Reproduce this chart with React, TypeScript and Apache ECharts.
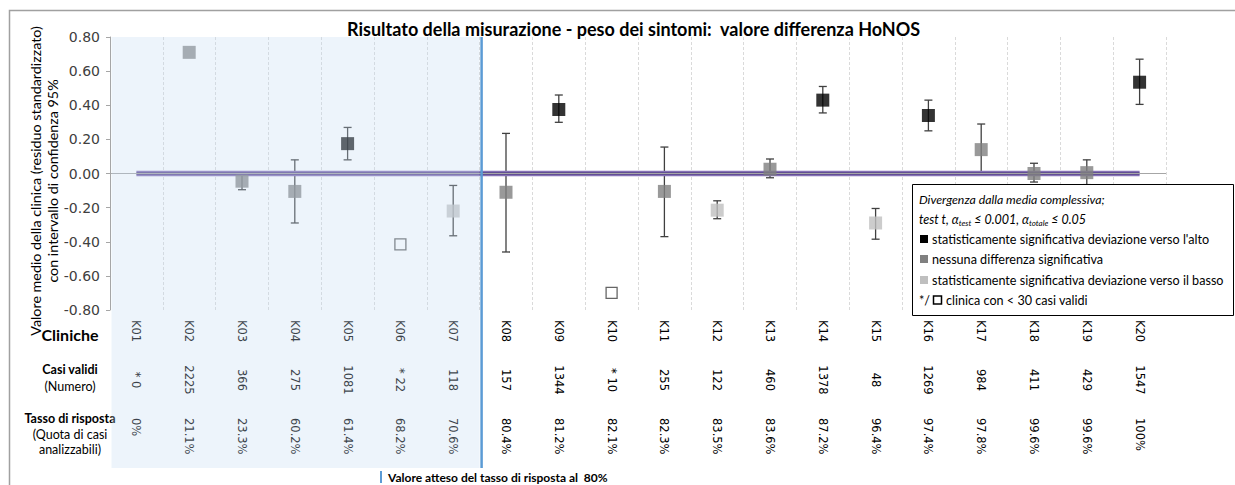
import React, { useEffect, useRef } from "react";
import * as echarts from "echarts";

const titleText = "Risultato della misurazione - peso dei sintomi:  valore differenza HoNOS";
const yAxisTitle = ["Valore medio della clinica (residuo standardizzato)", "con intervallo di confidenza 95%"];

const categories = ["K01", "K02", "K03", "K04", "K05", "K06", "K07", "K08", "K09", "K10", "K11", "K12", "K13", "K14", "K15", "K16", "K17", "K18", "K19", "K20"];
const casiValidi = ["* 0", "2225", "366", "275", "1081", "* 22", "118", "157", "1344", "* 10", "255", "122", "460", "1378", "48", "1269", "984", "411", "429", "1547"];
const tassoRisposta = ["0%", "21.1%", "23.3%", "60.2%", "61.4%", "68.2%", "70.6%", "80.4%", "81.2%", "82.1%", "82.3%", "83.5%", "83.6%", "87.2%", "96.4%", "97.4%", "97.8%", "99.6%", "99.6%", "100%"];
// up = significantly above, ns = no significant difference, down = significantly below, small = < 30 valid cases
const groups = ["small", "ns", "ns", "ns", "up", "small", "down", "ns", "up", "small", "ns", "down", "ns", "up", "down", "up", "ns", "ns", "ns", "up"];
const meanValues: (number | null)[] = [null, 0.71, -0.045, -0.105, 0.175, -0.415, -0.22, -0.11, 0.375, -0.70, -0.105, -0.215, 0.025, 0.43, -0.29, 0.34, 0.14, 0.0, 0.005, 0.535];
const ciLower: (number | null)[] = [null, null, -0.095, -0.29, 0.08, null, -0.365, -0.46, 0.30, null, -0.37, -0.265, -0.025, 0.355, -0.385, 0.25, -0.01, -0.05, -0.065, 0.405];
const ciUpper: (number | null)[] = [null, null, -0.005, 0.08, 0.27, null, -0.07, 0.235, 0.46, null, 0.155, -0.16, 0.085, 0.51, -0.205, 0.43, 0.29, 0.06, 0.08, 0.67];
const overallMean = 0;
const yMin = -0.8;
const yMax = 0.8;
const yStep = 0.2;
const expectedRateIndex = 6; // line drawn after K07 (80% response rate)

const legendHeader1 = "Divergenza dalla media complessiva;";
const legendItems = [
  "statisticamente significativa deviazione verso l'alto",
  "nessuna differenza significativa",
  "statisticamente significativa deviazione verso il basso",
];
const legendSmall = "clinica con < 30 casi validi";
const footNote = "Valore atteso del tasso di risposta al  80%";

const FONT = "Lato, 'Noto Sans', sans-serif";
const FONT2 = "DejaVu Sans, Verdana, sans-serif";
const colors: Record<string, string> = { up: "#000000", ns: "#808080", down: "#bfbfbf" };

export default function App() {
  const ref = useRef<HTMLDivElement>(null);
  useEffect(() => {
    if (!ref.current) return;
    const chart = echarts.init(ref.current, undefined, { renderer: "svg" });

    const groupData = (g: string) =>
      categories.map((c, i) => (groups[i] === g && meanValues[i] !== null ? meanValues[i] : "-"));

    const errData: any[] = [];
    categories.forEach((c, i) => {
      if (ciLower[i] !== null && ciUpper[i] !== null) errData.push([i, ciLower[i], ciUpper[i]]);
    });

    const scatterBase = (name: string, g: string) => ({
      name,
      type: "scatter",
      symbol: "rect",
      symbolSize: 13,
      data: groupData(g),
      itemStyle: { color: colors[g] },
      z: 6,
    });

    const hiddenAxis = (offset: number, labels: string[], align?: string) => ({
      type: "category",
      data: categories,
      position: "bottom",
      offset,
      axisLine: { show: false, onZero: false },
      axisTick: { show: false },
      splitLine: { show: false },
      axisLabel: {
        interval: 0,
        rotate: -90,
        margin: 10,
        fontFamily: FONT2,
        fontSize: 11.5,
        color: "#000",
        ...(align ? { align } : {}),
        formatter: (v: string, i: number) => labels[i],
      },
    });

    chart.setOption({
      animation: false,
      title: {
        text: titleText,
        left: 342,
        top: 15,
        textStyle: { fontFamily: FONT, fontWeight: "bold", fontSize: 18, color: "#000" },
      },
      grid: { left: 110, right: 69, top: 37, bottom: 175, containLabel: false },
      xAxis: [
        {
          type: "category",
          data: categories,
          position: "bottom",
          axisLine: { show: false, onZero: false },
          axisTick: { show: false },
          splitLine: { show: true, lineStyle: { color: "#dadada", type: [3, 2], width: 1 } },
          axisLabel: { interval: 0, rotate: -90, margin: 10, fontFamily: FONT2, fontSize: 11.5, color: "#000" },
        },
        hiddenAxis(60, casiValidi, "center"),
        hiddenAxis(98, tassoRisposta),
      ],
      yAxis: {
        type: "value",
        min: yMin,
        max: yMax,
        interval: yStep,
        axisLine: { show: true, lineStyle: { color: "#a6a6a6" } },
        axisTick: { show: true, length: 4, lineStyle: { color: "#a6a6a6" } },
        splitLine: { show: false },
        axisLabel: {
          margin: 10,
          fontFamily: FONT2,
          fontSize: 14,
          color: "#404040",
          formatter: (v: number) => v.toFixed(2),
        },
      },
      series: [
        {
          type: "line",
          data: [],
          z: 1,
          markLine: {
            silent: true,
            symbol: "none",
            label: { show: false },
            lineStyle: { color: "#a6a6a6", width: 1, type: "solid" },
            data: [{ yAxis: overallMean }],
          },
        },
        {
          type: "custom",
          name: "ci",
          z: 2,
          data: errData,
          renderItem: (params: any, api: any) => {
            const x = api.value(0);
            const lo = api.coord([x, api.value(1)]);
            const hi = api.coord([x, api.value(2)]);
            const w = 4;
            const st = { stroke: "#404040", lineWidth: 1.3 };
            return {
              type: "group",
              children: [
                { type: "line", shape: { x1: lo[0], y1: lo[1], x2: hi[0], y2: hi[1] }, style: st },
                { type: "line", shape: { x1: lo[0] - w, y1: lo[1], x2: lo[0] + w, y2: lo[1] }, style: st },
                { type: "line", shape: { x1: hi[0] - w, y1: hi[1], x2: hi[0] + w, y2: hi[1] }, style: st },
              ],
            };
          },
        },
        {
          type: "line",
          data: categories.map(() => overallMean),
          symbol: "none",
          lineStyle: { color: "#8672b6", width: 5.5 },
          z: 3,
        },
        {
          type: "line",
          data: categories.map(() => overallMean),
          symbol: "none",
          lineStyle: { color: "#3e2d70", width: 1.8 },
          z: 4,
        },
        scatterBase(legendItems[0], "up"),
        scatterBase(legendItems[1], "ns"),
        scatterBase(legendItems[2], "down"),
        {
          name: legendSmall,
          type: "scatter",
          symbol: "rect",
          symbolSize: 11,
          data: categories.map((c, i) => (groups[i] === "small" && meanValues[i] !== null ? meanValues[i] : "-")),
          itemStyle: { color: "#ffffff", borderColor: "#404040", borderWidth: 1.3 },
          z: 6,
        },
      ],
    });

    const p0 = chart.convertToPixel({ xAxisIndex: 0 }, 0) as number;
    const p1 = chart.convertToPixel({ xAxisIndex: 0 }, 1) as number;
    const band = p1 - p0;
    const boundary = (chart.convertToPixel({ xAxisIndex: 0 }, expectedRateIndex) as number) + band / 2;
    const gridTop = chart.convertToPixel({ yAxisIndex: 0 }, yMax) as number;
    const gridLeft = p0 - band / 2;

    const lx = 912;
    const ly = 184;
    const ITEM_FS = 12.6;
    const legendText = (t: string, y: number, x = lx + 20) => ({
      type: "text",
      z: 121,
      x,
      y,
      style: { text: t, fontFamily: FONT, fontSize: ITEM_FS, fill: "#000", verticalAlign: "middle" },
    });
    const sq = (y: number, color: string) => ({
      type: "rect",
      z: 121,
      shape: { x: lx + 8, y: y - 4, width: 8, height: 8 },
      style: { fill: color },
    });
    const leftLabel = (t: string, y: number, bold: boolean, size = 12.5) => ({
      type: "text",
      z: 50,
      x: 70,
      y,
      style: {
        text: t,
        fontFamily: FONT,
        fontSize: size,
        fontWeight: bold ? "bold" : "normal",
        fill: "#000",
        align: "center",
        verticalAlign: "middle",
      },
    });

    chart.setOption({
      graphic: {
        elements: [
          {
            type: "rect",
            z: 0,
            shape: { x: 9.5, y: 10.5, width: 1240, height: 490 },
            style: { fill: "none", stroke: "#a0a0a0", lineWidth: 1.5 },
          },
          {
            type: "rect",
            z: 100,
            shape: { x: gridLeft + 1.5, y: gridTop, width: boundary - gridLeft - 1.5, height: 468 - gridTop },
            style: { fill: "rgba(197,217,241,0.30)" },
          },
          {
            type: "line",
            z: 101,
            shape: { x1: boundary + 2, y1: gridTop, x2: boundary + 2, y2: 468 },
            style: { stroke: "#5b9bd5", lineWidth: 2.5 },
          },
          {
            type: "text",
            z: 50,
            x: 44,
            y: 181,
            rotation: Math.PI / 2,
            style: {
              text: yAxisTitle.join("\n"),
              fontFamily: FONT,
              fontSize: 14.3,
              lineHeight: 17,
              fill: "#000",
              align: "center",
              verticalAlign: "middle",
            },
          },
          leftLabel("Cliniche", 334, true, 16),
          leftLabel("Casi validi", 369, true),
          leftLabel("(Numero)", 386, false),
          leftLabel("Tasso di risposta", 418, true),
          leftLabel("(Quota di casi", 434, false),
          leftLabel("analizzabili)", 449, false),
          {
            type: "line",
            z: 50,
            shape: { x1: 381, y1: 471, x2: 381, y2: 483 },
            style: { stroke: "#5b9bd5", lineWidth: 2 },
          },
          {
            type: "text",
            z: 50,
            x: 388,
            y: 477,
            style: { text: footNote, fontFamily: FONT, fontSize: 12, fontWeight: "bold", fill: "#000", verticalAlign: "middle" },
          },
          {
            type: "rect",
            z: 120,
            shape: { x: lx + 0.5, y: ly + 0.5, width: 321, height: 131 },
            style: { fill: "#ffffff", stroke: "#000", lineWidth: 1 },
          },
          {
            type: "text",
            z: 121,
            x: lx + 7,
            y: 199,
            style: { text: legendHeader1, fontFamily: FONT, fontStyle: "italic", fontSize: 12.3, fill: "#000", verticalAlign: "middle" },
          },
          {
            type: "text",
            z: 121,
            x: lx + 7,
            y: 219,
            style: {
              text: "{n|test t, α}{s|test}{n| ≤ 0.001, α}{s|totale}{n| ≤ 0.05}",
              verticalAlign: "middle",
              rich: {
                n: { fontFamily: FONT, fontStyle: "italic", fontSize: 12.5, lineHeight: 16, fill: "#000" },
                s: { fontFamily: FONT, fontStyle: "italic", fontSize: 8, lineHeight: 8, verticalAlign: "bottom", fill: "#000" },
              },
            },
          },
          sq(239, colors.up),
          legendText(legendItems[0], 239),
          sq(259, colors.ns),
          legendText(legendItems[1], 259),
          sq(280, colors.down),
          legendText(legendItems[2], 280),
          legendText("*/", 300, lx + 7),
          {
            type: "rect",
            z: 121,
            shape: { x: lx + 21.5, y: 296, width: 8, height: 8 },
            style: { fill: "#fff", stroke: "#000", lineWidth: 1.5 },
          },
          legendText(legendSmall, 300, lx + 34),
        ],
      },
    });

    return () => chart.dispose();
  }, []);

  return <div ref={ref} style={{ position: "absolute", left: 0, top: 0, width: 1235, height: 485 }} />;
}
